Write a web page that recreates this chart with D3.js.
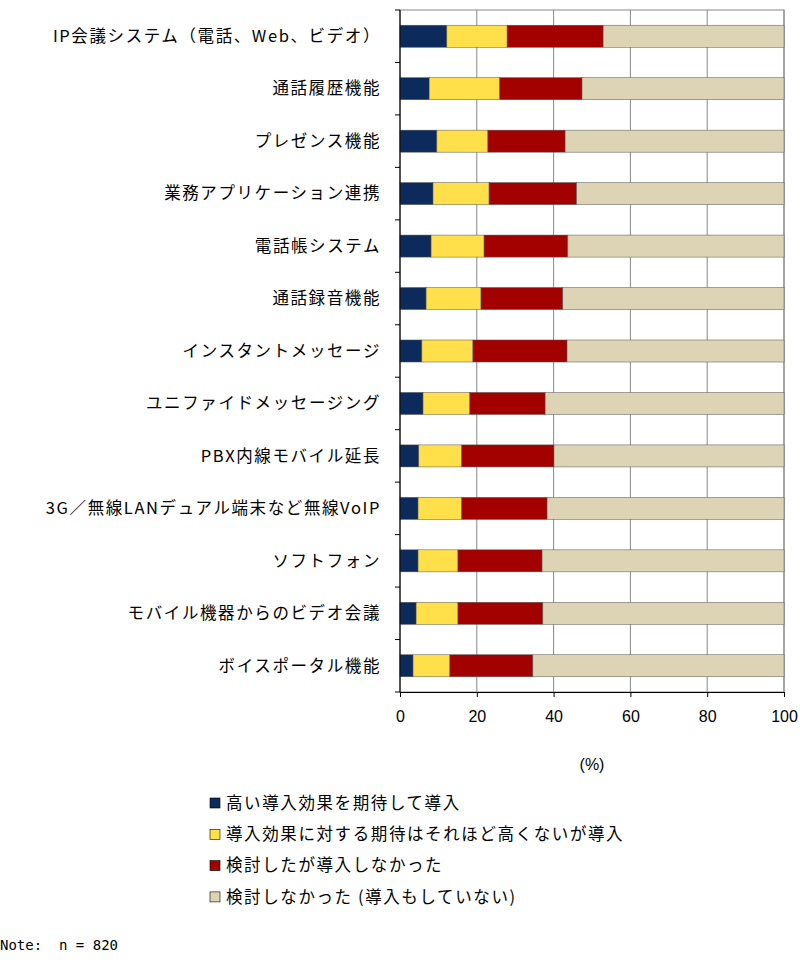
<!DOCTYPE html><html><head><meta charset="utf-8"><script src="https://cdn.jsdelivr.net/npm/d3@7"></script>
<style>body{margin:0;background:#fff}</style></head><body>
<svg id="c" width="800" height="962"></svg>
<script>
const categories=["IP会議システム（電話、Web、ビデオ）","通話履歴機能","プレゼンス機能","業務アプリケーション連携","電話帳システム","通話録音機能","インスタントメッセージ","ユニファイドメッセージング","PBX内線モバイル延長","3G／無線LANデュアル端末など無線VoIP","ソフトフォン","モバイル機器からのビデオ会議","ボイスポータル機能"];
const high=[12.2,7.6,9.6,8.6,8.1,6.8,5.7,6.0,4.9,4.7,4.7,4.2,3.4];
const low=[15.7,18.4,13.3,14.6,13.8,14.3,13.3,12.2,11.2,11.4,10.4,10.9,9.6];
const notAdopted=[25.0,21.4,20.1,22.8,21.8,21.3,24.5,19.6,24.0,22.2,21.9,22.1,21.6];
const notConsidered=[47.1,52.6,57.0,54.0,56.3,57.6,56.5,62.2,59.9,61.7,63.0,62.8,65.4];
const seriesNames=["高い導入効果を期待して導入","導入効果に対する期待はそれほど高くないが導入","検討したが導入しなかった","検討しなかった (導入もしていない)"];
const colors=["#0d2a5c","#ffe04a","#a30000","#ddd4b5"];
const ticks=[0,20,40,60,80,100];
const JP='"Noto Sans CJK JP","Noto Sans",sans-serif';
const svg=d3.select("#c");
const x=d3.scaleLinear().domain([0,100]).range([400,784]);
const y=d3.scaleBand().domain(categories).range([10,692]).paddingInner(0.58).paddingOuter(0.29);
const g=svg.append("g");
g.selectAll("line.grid").data(ticks).join("line").attr("x1",d=>x(d)).attr("x2",d=>x(d)).attr("y1",10).attr("y2",692).attr("stroke","#888").attr("stroke-width",1);
g.append("rect").attr("x",400).attr("y",10).attr("width",384).attr("height",682).attr("fill","none").attr("stroke","#888");
const data=[high,low,notAdopted,notConsidered];
categories.forEach((c,i)=>{let acc=0;data.forEach((s,k)=>{g.append("rect").attr("x",x(acc)).attr("y",y(c)).attr("width",x(acc+s[i])-x(acc)).attr("height",y.bandwidth()).attr("fill",colors[k]).attr("stroke","#555").attr("stroke-width",0.5);acc+=s[i];});});
g.append("line").attr("x1",400).attr("x2",400).attr("y1",10).attr("y2",692).attr("stroke","#000");
const step=682/13;
for(let i=0;i<=13;i++)g.append("line").attr("x1",395).attr("x2",400).attr("y1",10+i*step).attr("y2",10+i*step).attr("stroke","#000");
g.selectAll("text.cat").data(categories).join("text").attr("x",381).attr("y",d=>y(d)+y.bandwidth()/2).attr("dy","0.35em").attr("text-anchor","end").style("font-family",JP).style("font-size","16.5px").style("letter-spacing","1.6px").text(d=>d);
const ax=svg.append("g").attr("transform","translate(0,692)").call(d3.axisBottom(x).tickValues(ticks).tickSize(5).tickPadding(14));
ax.selectAll("text").style("font-size","16px").style("font-family","Liberation Sans,Arial,sans-serif");
ax.select(".domain").attr("stroke","#000");
svg.append("text").attr("x",592).attr("y",770).attr("text-anchor","middle").style("font-size","16px").style("font-family","Liberation Sans,Arial,sans-serif").text("(%)");
seriesNames.forEach((n,k)=>{const yy=803+k*31.3;svg.append("rect").attr("x",210).attr("y",yy-5).attr("width",10).attr("height",10).attr("fill",colors[k]).attr("stroke","#000").attr("stroke-width",0.6);svg.append("text").attr("x",226).attr("y",yy).attr("dy","0.35em").style("font-family",JP).style("font-size","16.5px").style("letter-spacing","1.6px").text(n);});
svg.append("text").attr("x",0).attr("y",950).style("font-size","14px").style("font-family","DejaVu Sans Mono,monospace").attr("xml:space","preserve").style("white-space","pre").text("Note:  n = 820");
</script></body></html>
